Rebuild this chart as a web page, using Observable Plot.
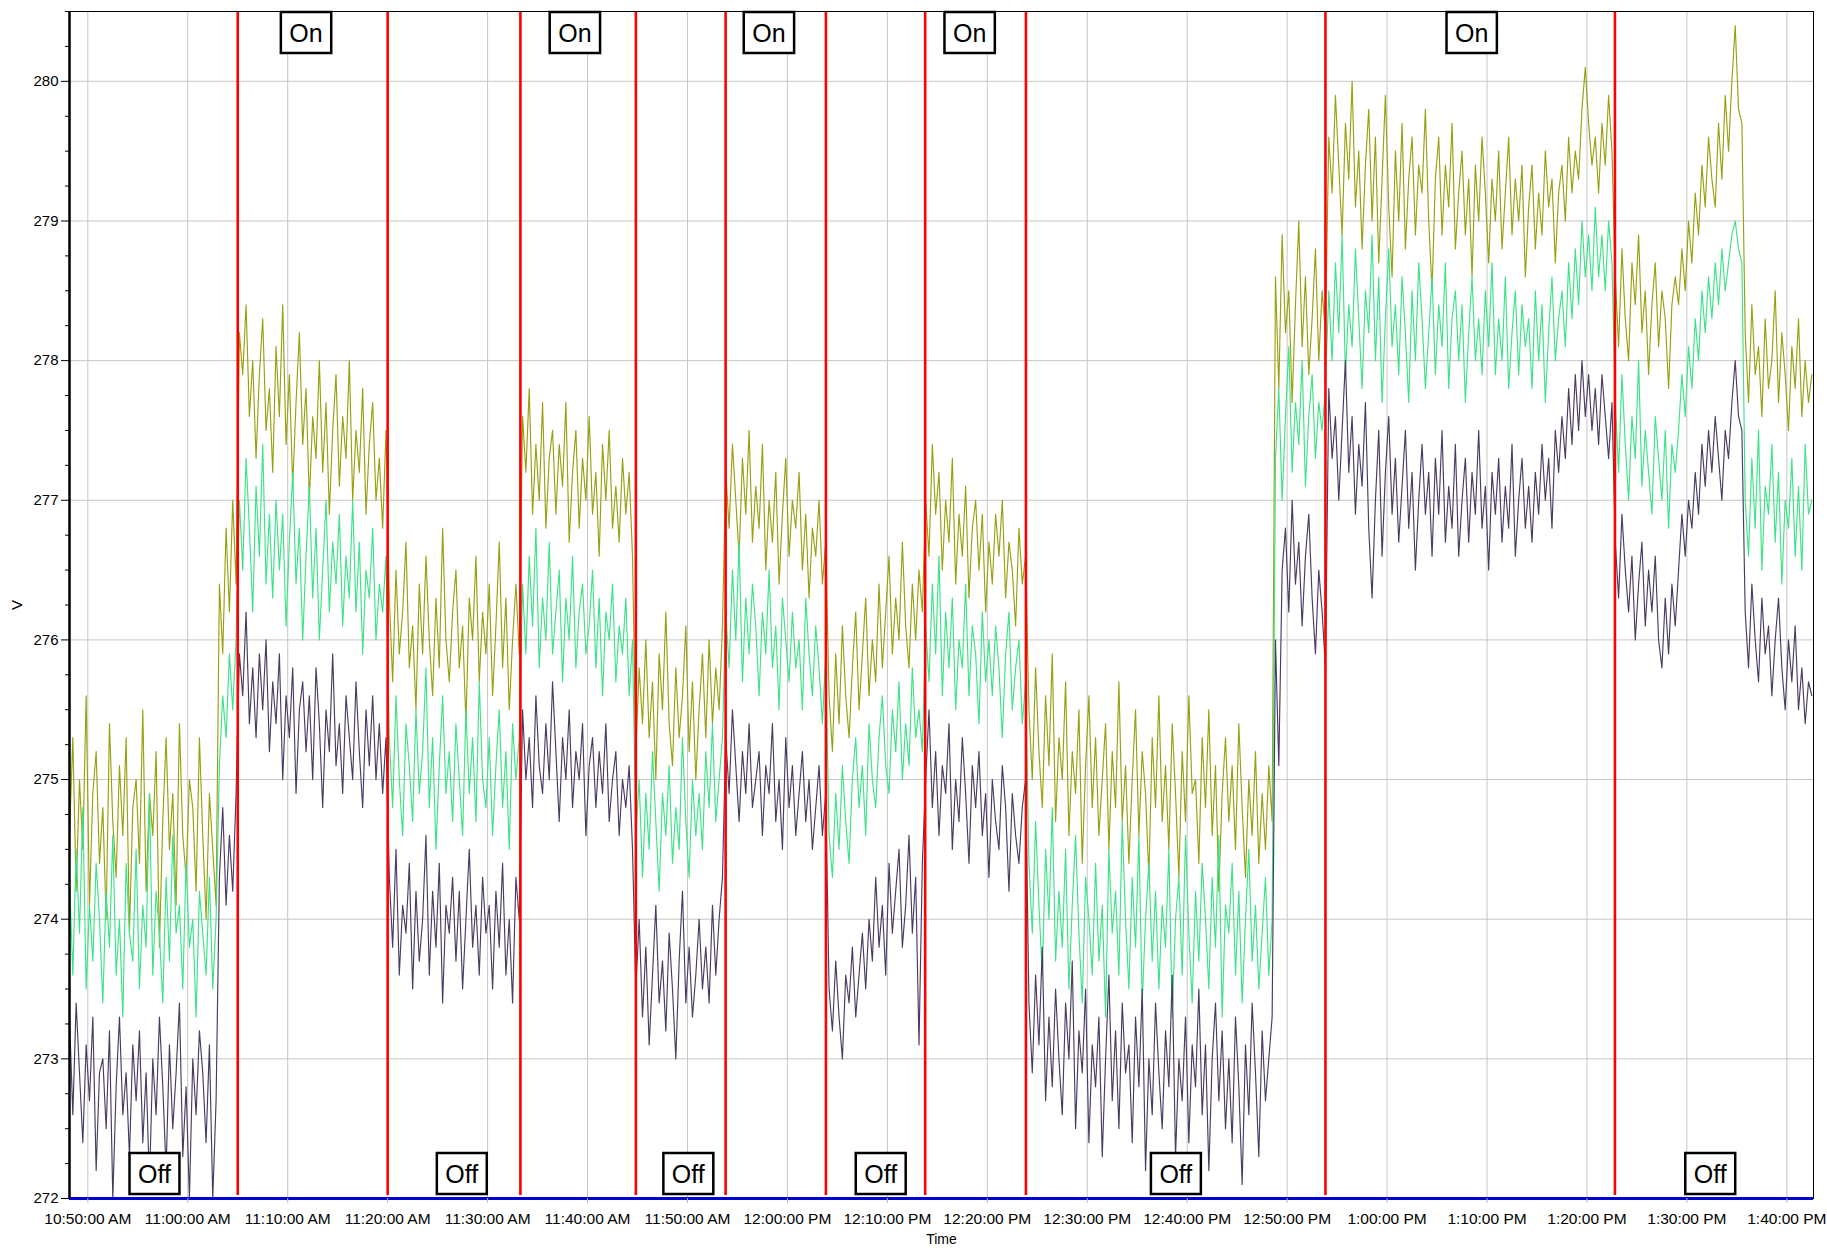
<!DOCTYPE html>
<html>
<head>
<meta charset="utf-8">
<script src="https://cdn.jsdelivr.net/npm/d3@7"></script>
<script src="https://cdn.jsdelivr.net/npm/@observablehq/plot@0.6"></script>
<style>
  html, body { margin: 0; padding: 0; background: #fff; }
  #chart { width: 1827px; height: 1248px; }
</style>
</head>
<body>
<div id="chart"></div>
<script>
// ---- time base (one reading every 20 s, from 10:48:10 AM) ----
const startClock = [10, 48, 10];
const endClock = [13, 42, 40];
const stepSeconds = 20;

// ---- series names / colours ----
const seriesNames = ["Series 1", "Series 2", "Series 3"];
const seriesColors = ["#98a110", "#3de388", "#4a3b63"];

// ---- voltage readings (V) ----
const olive = [
  // off
  274.6,275.3,274.2,275.0,274.5,275.6,274.1,274.9,275.2,274.4,
  274.8,274.0,275.4,274.7,274.3,275.1,274.6,275.3,273.9,274.8,
  275.0,274.4,275.5,274.2,274.9,274.6,275.2,273.8,274.7,275.3,
  274.5,274.9,274.1,275.4,274.6,274.3,275.0,274.8,274.2,275.3,
  274.6,274.0,274.9,274.5,274.1,
  276.4,275.9,276.8,276.2,277.0,276.4,
  // on 11:05
  278.2,277.9,278.4,277.6,278.0,277.3,277.9,278.3,277.5,277.8,
  277.2,278.1,277.6,278.4,277.4,277.9,277.1,277.7,278.2,277.4,
  277.8,277.0,277.6,277.3,278.0,277.2,277.7,276.9,277.5,277.9,
  277.1,277.6,277.3,278.0,277.0,277.5,277.2,277.8,276.9,277.4,
  277.7,277.0,277.3,276.8,277.5,
  // off 11:20
  276.3,275.7,276.5,275.9,276.2,276.7,275.8,276.1,275.5,276.4,
  275.9,276.6,276.0,275.6,276.3,275.8,276.8,276.0,275.7,276.2,
  276.5,275.8,276.1,275.4,276.3,276.0,276.6,275.7,276.2,275.9,
  276.4,275.6,276.1,276.7,275.8,276.3,275.5,276.0,276.4,275.9,
  // on 11:33
  277.6,277.2,277.8,276.9,277.4,277.0,277.7,276.8,277.3,277.5,
  276.9,277.4,277.1,277.7,276.7,277.2,277.5,276.8,277.3,277.0,
  277.6,276.9,277.2,276.6,277.4,277.0,277.5,276.8,277.1,276.7,
  277.3,276.9,277.2,276.6,
  // off 11:44
  275.2,275.8,275.4,276.0,275.3,275.7,275.0,275.9,275.5,276.2,
  275.4,275.1,275.8,275.3,275.6,276.1,275.2,275.7,275.0,275.5,
  275.9,275.3,276.0,275.4,275.8,275.5,276.1,
  // on 11:53
  277.2,276.8,277.4,277.0,276.6,277.3,276.9,277.5,276.7,277.1,
  276.8,277.4,276.5,277.0,276.7,277.2,276.4,276.9,277.3,276.6,
  277.0,276.8,277.2,276.5,276.9,276.3,276.8,276.6,277.0,276.4,
  276.7,
  // off 12:03
  275.6,275.2,275.9,275.4,276.1,275.6,275.3,275.8,276.2,275.5,
  275.9,276.3,275.6,276.0,275.7,276.4,275.8,276.2,276.6,275.9,
  276.3,276.0,276.7,276.1,275.8,276.4,276.0,276.5,276.2,
  // on 12:13
  277.0,276.6,277.4,276.9,277.2,276.5,277.0,276.7,277.3,276.4,
  276.9,276.6,277.1,276.3,276.8,277.0,276.5,276.9,276.2,276.7,
  276.4,276.9,276.6,277.0,276.3,276.7,276.5,276.1,276.8,276.4,
  276.6,
  // off 12:23
  275.5,275.0,275.8,275.2,274.8,275.6,275.1,275.9,274.7,275.3,
  275.0,275.7,274.6,275.2,274.9,275.5,274.4,275.1,275.6,274.8,
  275.3,274.6,275.0,275.4,274.5,275.2,274.8,275.7,274.7,275.1,
  274.4,275.0,275.5,274.6,275.2,274.9,274.3,275.3,274.8,275.6,
  274.7,275.1,274.5,275.4,274.9,274.3,275.2,274.7,275.6,274.9,
  275.0,274.4,275.3,274.8,275.5,274.6,275.1,274.2,274.9,275.3,
  274.7,275.1,274.5,275.4,274.8,274.3,275.0,274.6,275.2,274.4,
  274.9,274.5,275.1,274.7,
  278.6,277.8,278.9,278.2,278.5,277.7,278.4,279.0,278.1,278.6,
  277.9,278.3,278.8,278.0,278.5,278.2,
  // on 12:53
  279.6,279.2,279.9,279.4,278.9,279.7,279.3,280.0,279.1,279.5,
  278.8,279.4,279.8,279.0,279.6,278.7,279.3,279.9,279.1,278.6,
  279.5,279.0,279.7,278.8,279.3,279.6,278.9,279.4,279.2,279.8,
  279.0,278.5,279.3,279.6,278.9,279.4,279.1,279.7,278.8,279.2,
  279.5,278.9,279.3,278.6,279.4,279.0,279.6,279.2,278.7,279.3,
  279.0,279.5,278.8,279.2,279.6,278.9,279.3,279.0,279.4,278.6,
  279.1,279.4,278.8,279.2,278.9,279.5,279.1,279.3,278.7,279.2,
  279.4,279.0,279.6,279.2,279.5,279.3,279.8,280.1,279.7,279.4,
  279.6,279.2,279.7,279.4,279.9,279.5,
  // off 1:22
  278.6,278.1,278.8,278.3,278.0,278.7,278.4,278.9,278.2,278.5,
  277.9,278.4,278.7,278.1,278.5,278.3,277.8,278.4,278.6,
  278.4,278.8,278.5,279.0,278.7,279.2,278.9,279.4,279.1,279.6,
  279.3,279.1,279.7,279.3,279.9,279.5,280.0,280.4,279.8,279.7,
  278.2,277.7,278.4,277.9,278.1,277.6,278.3,277.8,278.0,278.5,
  277.7,278.2,277.9,277.5,278.1,277.8,278.3,277.6,278.0,277.7,277.9
];

const green = [
  // off
  274.3,273.6,274.5,273.9,274.8,273.5,274.1,273.7,274.4,274.0,
  273.4,274.2,273.8,274.6,273.6,274.0,273.3,274.4,273.9,273.7,
  274.5,273.5,274.1,273.8,274.9,273.6,274.2,273.9,273.4,274.3,
  273.7,274.6,273.9,274.1,273.5,274.4,273.8,274.0,273.3,274.2,
  273.9,273.6,274.3,273.5,274.0,
  275.1,275.6,275.3,275.9,275.5,276.0,
  // on 11:05
  277.0,276.5,277.3,276.8,276.2,277.1,276.6,277.4,276.4,276.9,
  276.3,277.0,276.5,276.9,276.1,276.7,277.2,276.4,276.8,276.0,
  276.6,277.1,276.3,276.8,276.0,276.5,277.0,276.2,276.7,276.4,
  276.9,276.1,276.6,276.3,277.0,276.2,276.7,275.9,276.5,276.3,
  276.8,276.0,276.4,276.2,276.6,
  // off 11:20
  275.3,274.8,275.6,275.0,274.6,275.4,275.1,274.7,275.5,274.9,
  275.2,275.8,274.8,275.3,274.5,275.1,275.6,274.9,275.2,274.7,
  275.4,275.0,274.6,275.5,274.9,275.3,274.7,275.7,275.0,274.8,
  275.3,274.6,275.1,275.5,274.8,275.2,274.5,275.4,275.0,275.3,
  // on 11:33
  276.4,275.9,276.6,276.1,276.8,275.8,276.3,276.0,276.7,275.9,
  276.2,276.5,275.7,276.3,276.0,276.6,275.8,276.2,276.4,275.9,
  276.1,276.5,275.8,276.3,275.6,276.2,276.0,276.4,275.7,276.1,
  275.9,276.3,275.6,276.0,
  // off 11:44
  274.6,275.0,274.3,274.9,274.5,275.2,274.7,274.2,274.9,274.6,
  275.1,274.4,274.8,274.5,275.3,274.7,274.3,275.0,274.6,274.9,
  274.5,275.2,274.8,275.4,274.7,275.0,275.3,
  // on 11:53
  276.2,275.8,276.5,276.0,276.7,275.7,276.3,275.9,276.4,276.1,
  275.6,276.2,275.9,276.5,275.8,276.1,275.5,276.3,276.0,275.7,
  276.2,275.8,276.0,275.5,276.3,275.9,275.6,276.1,275.8,275.4,
  275.9,
  // off 12:03
  274.6,274.3,274.9,274.5,275.1,274.7,274.4,275.0,275.3,274.8,
  275.1,274.6,275.4,275.0,274.8,275.3,275.6,275.1,274.9,275.5,
  275.2,275.7,275.0,275.4,275.1,275.8,275.3,275.5,275.2,
  // on 12:13
  276.1,275.7,276.4,275.9,276.6,275.6,276.2,275.8,276.3,275.5,
  276.0,275.8,276.4,275.6,276.1,275.9,275.4,276.2,275.7,276.0,
  275.6,276.1,275.8,275.3,275.9,276.2,275.5,275.8,276.0,275.4,
  275.7,
  // off 12:23
  274.4,273.9,274.7,274.1,273.6,274.5,274.0,274.8,273.7,274.2,
  273.8,274.5,273.5,274.1,274.6,273.9,273.4,274.3,274.0,273.6,
  274.4,273.7,274.1,273.3,274.5,273.9,274.2,273.6,274.7,274.0,
  273.5,274.3,273.8,274.6,273.4,274.0,274.4,273.7,274.2,273.5,
  274.1,273.8,274.5,273.3,274.0,274.3,273.6,274.6,273.9,273.4,
  274.2,273.7,274.4,274.0,273.5,274.3,273.8,274.6,273.3,274.1,
  273.9,274.4,273.6,274.2,273.4,274.0,274.5,273.7,274.1,273.5,
  273.9,274.3,273.6,274.0,
  277.3,277.8,277.0,277.6,278.1,277.2,277.7,277.4,278.0,277.1,
  277.6,277.9,277.3,277.7,277.5,277.8,
  // on 12:53
  278.5,278.0,278.7,278.2,278.9,277.9,278.4,278.1,278.8,278.3,
  277.8,278.5,278.2,278.9,278.0,278.6,277.7,278.3,278.8,278.1,
  278.4,277.9,278.6,278.2,277.7,278.5,278.0,278.7,278.3,277.8,
  278.2,278.6,277.9,278.4,278.1,278.7,277.8,278.3,278.5,278.0,
  278.4,277.7,278.2,278.6,278.0,278.3,277.9,278.5,278.1,278.7,
  277.9,278.3,278.0,278.6,277.8,278.2,278.5,277.9,278.4,278.1,
  278.3,277.8,278.5,278.0,278.4,277.7,278.2,278.6,278.0,278.3,
  278.5,278.1,278.7,278.3,278.8,278.4,279.0,278.6,278.9,278.5,
  279.1,278.6,278.9,278.5,279.0,278.7,
  // off 1:22
  277.7,277.2,277.9,277.4,277.0,277.6,277.3,278.0,277.1,277.5,
  277.2,276.9,277.6,277.3,277.0,277.5,276.8,277.4,277.2,
  277.5,277.9,277.6,278.1,277.8,278.3,278.0,278.5,278.2,278.6,
  278.3,278.7,278.4,278.8,278.5,278.7,278.9,279.0,278.8,278.7,
  277.0,276.6,277.3,276.8,277.5,276.5,277.1,276.9,277.4,276.7,
  277.2,276.4,277.0,276.8,277.3,276.6,277.1,276.5,277.4,276.9,277.0
];

const purple = [
  // off
  273.3,272.6,273.4,272.9,272.4,273.1,272.7,273.3,272.2,272.9,
  273.0,272.5,273.2,272.0,272.8,273.3,272.6,272.9,272.3,273.1,
  272.7,273.2,272.4,272.9,272.1,273.0,272.6,273.3,272.8,272.2,
  273.1,272.5,272.9,273.4,272.3,272.8,272.0,273.0,272.6,273.2,
  272.9,272.4,273.1,272.0,272.7,
  274.3,274.8,274.1,274.6,274.2,274.9,
  // on 11:05
  275.9,275.6,276.2,275.4,275.8,275.3,275.9,275.5,276.0,275.2,
  275.7,275.4,275.9,275.0,275.6,275.3,275.8,274.9,275.5,275.7,
  275.2,275.6,275.0,275.8,275.4,274.8,275.5,275.2,275.9,275.1,
  275.4,274.9,275.6,275.3,275.0,275.7,275.2,274.8,275.5,275.1,
  275.6,275.0,275.4,274.9,275.3,
  // off 11:20
  274.3,273.8,274.5,273.6,274.1,273.9,274.4,273.5,274.2,273.7,
  274.0,274.6,273.6,274.2,273.8,274.4,273.4,274.1,273.9,274.3,
  273.7,274.2,273.5,274.0,274.5,273.8,274.1,273.6,274.3,273.9,
  274.1,273.5,274.2,273.8,274.4,273.6,274.0,273.4,274.3,274.0,
  // on 11:33
  275.5,275.0,275.3,274.8,275.6,275.1,274.9,275.4,275.0,275.7,
  275.2,274.7,275.3,275.0,275.5,274.8,275.2,275.0,275.4,274.6,
  275.1,275.3,274.8,275.2,274.9,275.4,274.7,275.0,275.2,274.6,
  275.0,274.8,275.1,274.5,
  // off 11:44
  273.5,274.0,273.3,273.8,273.1,273.6,274.1,273.4,273.7,273.2,
  273.9,273.5,273.0,273.7,274.2,273.4,273.8,273.3,273.6,274.0,
  273.5,273.8,273.4,274.1,273.6,274.0,274.3,
  // on 11:53
  275.3,274.9,275.5,275.1,274.7,275.2,274.9,275.4,274.8,275.0,
  275.2,274.6,275.1,274.9,275.4,274.7,275.0,274.5,275.3,274.8,
  275.1,274.6,274.9,275.2,274.7,275.0,274.5,274.8,275.1,274.6,
  274.9,
  // off 12:03
  273.5,273.2,273.7,273.3,273.0,273.6,273.4,273.8,273.3,273.6,
  273.9,273.5,274.0,273.7,274.3,273.8,274.1,273.6,274.4,273.9,
  274.2,274.5,273.8,274.1,274.6,273.9,274.3,273.1,274.4,
  // on 12:13
  275.0,275.5,274.8,275.2,274.6,275.1,274.9,275.4,274.5,275.0,
  274.7,275.3,274.9,274.4,275.1,274.8,275.2,274.6,274.9,274.3,
  275.0,274.7,274.5,275.1,274.8,274.2,274.9,274.6,274.4,274.8,
  275.0,
  // off 12:23
  273.4,272.9,273.6,273.1,273.8,272.7,273.3,272.8,273.5,273.0,
  272.6,273.4,273.0,273.7,272.5,273.2,272.9,273.5,272.4,273.1,
  272.8,273.3,272.3,273.0,273.6,272.7,273.2,272.5,273.4,272.9,
  273.1,272.4,273.3,272.8,273.5,272.2,273.0,272.6,273.4,272.9,
  272.5,273.2,272.8,273.6,272.3,273.0,272.7,273.3,272.4,273.1,
  272.8,273.5,272.6,273.1,272.2,273.0,273.4,272.7,273.2,272.5,
  273.0,272.4,273.3,272.8,272.1,273.1,272.6,273.4,272.9,272.3,
  273.2,272.7,273.0,273.3,
  276.0,275.1,276.5,276.8,276.2,277.0,276.4,276.7,276.1,276.6,
  276.9,276.3,275.9,276.5,276.2,275.8,
  // on 12:53
  277.8,277.3,277.6,277.0,277.5,278.0,277.2,277.6,276.9,277.4,
  277.1,277.7,276.8,276.3,277.0,277.5,276.6,277.2,277.6,276.9,
  277.3,276.7,277.1,277.5,276.8,277.2,276.5,277.0,277.4,276.9,
  277.2,276.6,277.3,276.9,277.5,276.7,277.1,276.8,277.4,276.6,
  277.0,277.3,276.7,277.2,276.9,277.5,276.8,277.1,276.5,277.2,
  276.9,277.3,276.7,277.1,276.8,277.4,276.6,277.0,277.3,276.8,
  277.1,276.7,277.2,276.9,277.4,277.0,277.3,276.8,277.5,277.2,
  277.6,277.3,277.8,277.4,277.9,277.5,278.0,277.6,277.9,277.5,
  277.8,277.4,277.9,277.6,277.3,277.7,
  // off 1:22
  276.7,276.3,276.9,276.5,276.2,276.6,276.0,276.4,276.7,276.1,
  276.5,276.2,276.6,276.0,275.8,276.3,275.9,276.4,276.1,
  276.5,276.9,276.6,277.0,276.8,277.2,276.9,277.4,277.1,277.5,
  277.2,277.6,277.3,277.0,277.5,277.3,277.7,278.0,277.6,277.5,
  276.2,275.8,276.4,276.0,275.7,276.3,275.9,276.1,275.6,276.0,
  276.3,275.8,275.5,276.0,275.7,276.1,275.5,275.8,275.4,275.7,275.6
];

// ---- switching events and labels ----
const switchTimes = ["11:05:00","11:20:00","11:33:17","11:44:50","11:53:49",
                     "12:03:51","12:13:47","12:23:52","12:53:50","13:22:48"];
const onLabelTimes = ["11:11:50","11:38:44","11:58:09","12:18:14","13:08:28"];
const offLabelTimes = ["10:56:40","11:27:25","11:50:05","12:09:20","12:38:52","13:32:20"];
const yMajor = [272,273,274,275,276,277,278,279,280];

// ---- build ----
const day = [2020, 0, 1];
const clock = s => { const [h,m,sec] = s.split(":").map(Number); return new Date(day[0], day[1], day[2], h, m, sec); };
const xStart = new Date(day[0], day[1], day[2], ...startClock);
const xEnd = new Date(day[0], day[1], day[2], ...endClock);
const rows = [];
[olive, green, purple].forEach((arr, k) => {
  arr.forEach((v, i) => rows.push({t: new Date(+xStart + i * stepSeconds * 1000), v, s: seriesNames[k]}));
});
const xTicks = d3.timeMinute.every(10).range(xStart, xEnd);
const yMinor = d3.range(272, 280.5001, 0.25).filter(v => !Number.isInteger(v));
const fmt = d3.timeFormat("%-I:%M:%S %p");
const font = "'Liberation Sans', Arial, Helvetica, sans-serif";

const chart = Plot.plot({
  width: 1827,
  height: 1248,
  marginLeft: 69,
  marginRight: 14,
  marginTop: 11,
  marginBottom: 50,
  style: {fontFamily: font, fontSize: "15px", background: "#fff", color: "#000", overflow: "visible"},
  x: {type: "time", domain: [xStart, xEnd]},
  y: {domain: [272, 280.5]},
  color: {type: "ordinal", domain: seriesNames, range: seriesColors},
  marks: [
    Plot.ruleX(xTicks, {stroke: "#c6c6c6", strokeWidth: 1}),
    Plot.ruleY(yMajor, {stroke: "#c6c6c6", strokeWidth: 1}),
    Plot.lineY(rows, {x: "t", y: "v", z: "s", stroke: "s", strokeWidth: 1.15}),
    Plot.ruleX(switchTimes.map(clock), {stroke: "#ff0000", strokeWidth: 2.6, insetBottom: 3}),
    Plot.frame({stroke: "#000", strokeWidth: 1}),
    Plot.ruleY([272], {stroke: "#0000d8", strokeWidth: 3}),
    Plot.ruleX([xStart], {stroke: "#000", strokeWidth: 2.5}),
    Plot.axisX({ticks: xTicks, tickFormat: fmt, tickSize: 5, tickPadding: 9, fontSize: 15.5, stroke: "#bbb", color: "#000", label: null}),
    Plot.axisY({ticks: yMajor, tickSize: 8, tickPadding: 3, fontSize: 15, stroke: "#000", label: null}),
    Plot.axisY({ticks: yMinor, tickSize: 4, tickFormat: () => "", stroke: "#000", label: null}),
    Plot.text(["V"], {frameAnchor: "left", dx: -52, rotate: -90, fontSize: 15, fill: "#000", textAnchor: "middle", lineAnchor: "middle"}),
    Plot.text(["Time"], {frameAnchor: "bottom", dy: 41, fontSize: 14, fill: "#000", lineAnchor: "middle"}),
    Plot.text(onLabelTimes.map(clock), {x: d => d, text: () => "On", frameAnchor: "top", dy: 22, lineAnchor: "middle", fontSize: 25, fill: "#000"}),
    Plot.text(offLabelTimes.map(clock), {x: d => d, text: () => "Off", frameAnchor: "bottom", dy: -24, lineAnchor: "middle", fontSize: 25, fill: "#000"})
  ]
});

document.getElementById("chart").appendChild(chart);

// boxes behind the On / Off labels
const ns = "http://www.w3.org/2000/svg";
Array.from(chart.querySelectorAll("text"))
  .filter(t => t.textContent === "On" || t.textContent === "Off")
  .forEach(t => {
    const b = t.getBBox();
    const m = t.getCTM ? t.getCTM() : null;
    const pm = t.parentNode.getCTM ? t.parentNode.getCTM() : null;
    let cx = b.x + b.width / 2, cy = b.y + b.height / 2;
    if (m && pm) {
      const rel = pm.inverse().multiply(m);
      const p = new DOMPoint(cx, cy).matrixTransform(rel);
      cx = p.x; cy = p.y;
    }
    const w = b.width + 17, h = 41;
    const r = document.createElementNS(ns, "rect");
    r.setAttribute("x", cx - w / 2);
    r.setAttribute("y", cy - h / 2);
    r.setAttribute("width", w);
    r.setAttribute("height", h);
    r.setAttribute("fill", "#fff");
    r.setAttribute("stroke", "#000");
    r.setAttribute("stroke-width", 2.5);
    t.parentNode.insertBefore(r, t);
  });
</script>
</body>
</html>
